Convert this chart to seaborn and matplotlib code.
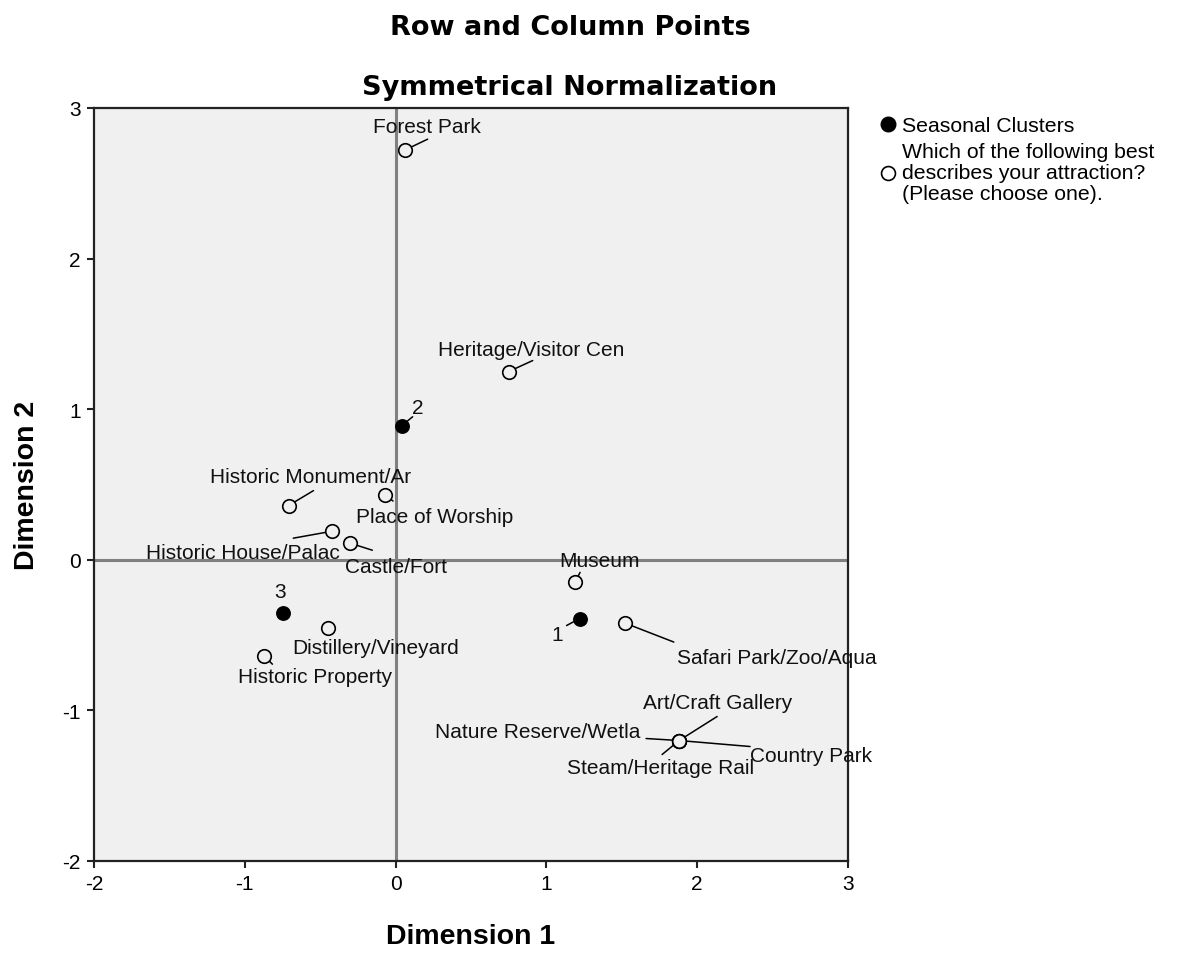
import matplotlib
matplotlib.use("Agg")
import matplotlib.pyplot as plt
from matplotlib.lines import Line2D
import pandas as pd
import seaborn as sns

# row points (seasonal clusters)
clusters = ["1", "2", "3"]
cluster_dim1 = [1.22, 0.04, -0.75]
cluster_dim2 = [-0.39, 0.89, -0.35]

# column points (attraction type)
attractions = ["Forest Park", "Heritage/Visitor Cen", "Historic Monument/Ar",
               "Place of Worship", "Historic House/Palac", "Castle/Fort",
               "Distillery/Vineyard", "Historic Property", "Museum",
               "Safari Park/Zoo/Aqua", "Art/Craft Gallery", "Nature Reserve/Wetla",
               "Steam/Heritage Rail", "Country Park"]
attr_dim1 = [0.06, 0.75, -0.71, -0.07, -0.42, -0.30, -0.45, -0.87, 1.19,
             1.52, 1.88, 1.88, 1.88, 1.88]
attr_dim2 = [2.72, 1.25, 0.36, 0.43, 0.19, 0.11, -0.45, -0.64, -0.15,
             -0.42, -1.20, -1.20, -1.20, -1.20]

legend_labels = ["Seasonal Clusters",
                 "Which of the following best\ndescribes your attraction?\n(Please choose one)."]

# label placement in pixels relative to the point: (label dx, dy, leader dx, dy)
offsets = {
    "1": (-22, -16, -13, -7),
    "2": (16, 18, 11, 9),
    "3": (-2, 21, None, None),
    "Forest Park": (22, 24, 23, 11),
    "Heritage/Visitor Cen": (22, 22, 24, 11),
    "Historic Monument/Ar": (22, 29, 25, 15),
    "Place of Worship": (50, -21, 8, -6),
    "Historic House/Palac": (-89, -21, -39, -7),
    "Castle/Fort": (46, -23, 22, -7),
    "Distillery/Vineyard": (48, -20, None, None),
    "Historic Property": (51, -20, 8, -8),
    "Museum": (24, 22, 5, 10),
    "Safari Park/Zoo/Aqua": (152, -34, 49, -19),
    "Art/Craft Gallery": (39, 38, 38, 24),
    "Nature Reserve/Wetla": (-141, 9, -33, 2),
    "Steam/Heritage Rail": (-19, -27, -17, -14),
    "Country Park": (132, -15, 71, -6),
}

rows = pd.DataFrame({"name": clusters, "dim1": cluster_dim1, "dim2": cluster_dim2})
cols = pd.DataFrame({"name": attractions, "dim1": attr_dim1, "dim2": attr_dim2})

sns.set_style("ticks")
plt.rcParams["font.family"] = ["Liberation Sans", "DejaVu Sans"]
plt.rcParams["axes.unicode_minus"] = False
plt.rcParams["text.color"] = "black"
plt.rcParams["axes.labelcolor"] = "black"
plt.rcParams["xtick.color"] = "black"
plt.rcParams["ytick.color"] = "black"

bg = "#F0F0F0"
fig, ax = plt.subplots(figsize=(11.81, 9.54), dpi=100)
fig.subplots_adjust(left=94/1181, right=848/1181, bottom=1-862/954, top=1-109/954)
ax.set_facecolor(bg)

ax.axhline(0, color="#808080", lw=2.2, zorder=1)
ax.axvline(0, color="#808080", lw=2.2, zorder=1)

sns.scatterplot(data=rows, x="dim1", y="dim2", ax=ax, color="black", s=115,
                linewidth=0, zorder=4, legend=False)
sns.scatterplot(data=cols, x="dim1", y="dim2", ax=ax, facecolor=bg, edgecolor="black",
                s=95, linewidth=1.2, zorder=4, legend=False)

for df in (rows, cols):
    for _, r in df.iterrows():
        tx, ty, lx, ly = offsets[r["name"]]
        if lx is not None:
            ax.annotate("", xy=(r["dim1"], r["dim2"]), xytext=(lx, ly),
                        textcoords="offset pixels", zorder=3,
                        arrowprops=dict(arrowstyle="-", color="black", lw=1.1,
                                        shrinkA=0, shrinkB=5))
        ax.annotate(r["name"], xy=(r["dim1"], r["dim2"]), xytext=(tx, ty),
                    textcoords="offset pixels", ha="center", va="center",
                    fontsize=15, color="#111111", zorder=5, annotation_clip=False)

ax.set_xlim(-2, 3)
ax.set_ylim(-2, 3)
ax.set_xticks(range(-2, 4))
ax.set_yticks(range(-2, 4))
ax.tick_params(direction="out", length=5, width=1.5, labelsize=15, pad=4.5,
               color="#222222", labelcolor="black")
for sp in ax.spines.values():
    sp.set_color("#222222")
    sp.set_linewidth(1.6)

ax.set_xlabel("Dimension 1", fontsize=20.5, fontweight="bold")
ax.set_ylabel("Dimension 2", fontsize=20.5, fontweight="bold")
ax.xaxis.set_label_coords(0.5, -0.083)
ax.yaxis.set_label_coords(-0.072, 0.5)

fig.text(570/1181, 1-35/954, "Row and Column Points", ha="center", va="baseline",
         fontsize=19.5, fontweight="bold", family="DejaVu Sans")
fig.text(570/1181, 1-95/954, "Symmetrical Normalization", ha="center", va="baseline",
         fontsize=19.5, fontweight="bold", family="DejaVu Sans")

handles = [Line2D([], [], marker="o", ls="", color="black", ms=10.5),
           Line2D([], [], marker="o", ls="", mfc="white", mec="black", ms=10, mew=1.2)]
leg = fig.legend(handles, legend_labels, loc="upper left",
                 bbox_to_anchor=(879/1181, 1-117/954), frameon=False, fontsize=15.3,
                 handlelength=0.8, handletextpad=0.3, borderaxespad=0, borderpad=0,
                 labelspacing=0.35)
for t in leg.get_texts():
    t.set_linespacing(1.12)

fig.savefig("out.png", dpi=100)
